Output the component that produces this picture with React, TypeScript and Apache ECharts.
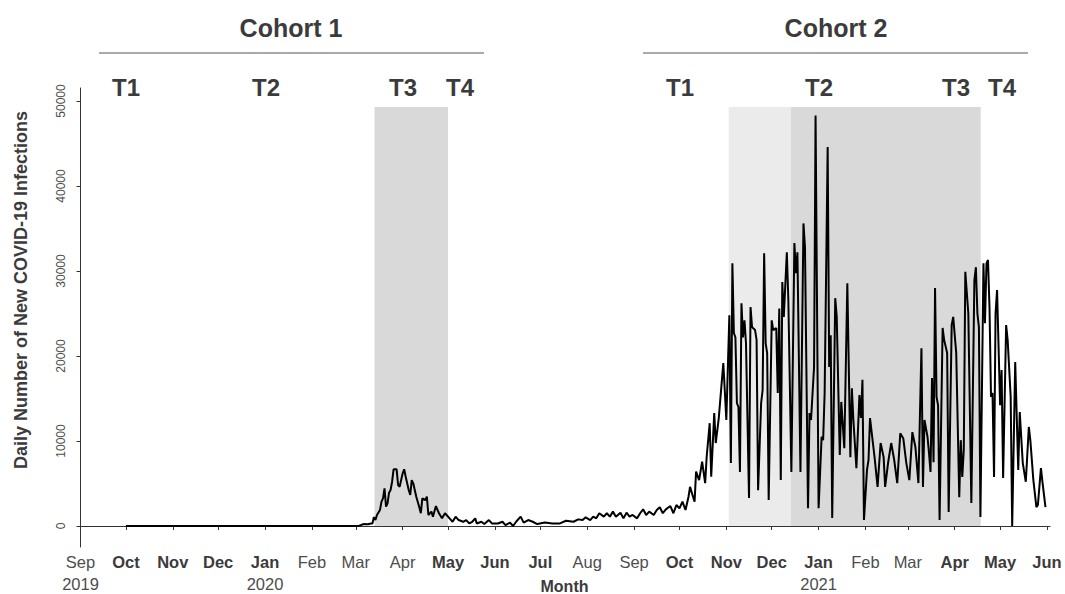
import React, { useEffect, useRef } from "react";
import * as echarts from "echarts";

// Day offsets counted from 2019-09-01
const ORIGIN_UTC = Date.UTC(2019, 8, 1);
const DAY_MS = 86400000;

const days: number[] = [
  30, 184, 187, 190, 192, 193, 194, 195, 196, 198, 199, 200, 201, 202, 203, 204, 205, 206, 207, 209,
  210, 211, 213, 214, 215, 217, 218, 219, 220, 222, 224, 225, 226, 228, 229, 230, 232, 233, 235, 237,
  239, 241, 244, 246, 248, 250, 253, 255, 257, 259, 261, 262, 265, 267, 270, 272, 276, 279, 281, 284,
  286, 288, 291, 293, 296, 299, 302, 307, 312, 317, 321, 326, 329, 332, 334, 337, 339, 341, 343, 346,
  348, 350, 352, 354, 357, 359, 361, 363, 365, 368, 370, 372, 374, 376, 379, 381, 383, 385, 387, 390,
  392, 394, 396, 398, 400, 402, 403, 406, 407, 409, 411, 413, 414, 416, 417, 419, 420, 422, 425, 427,
  429, 430, 431, 432, 433, 434, 435, 436, 437, 438, 439, 440, 442, 443, 444, 446, 447, 448, 450, 451,
  452, 453, 454, 455, 457, 458, 460, 461, 462, 463, 464, 465, 467, 468, 470, 472, 473, 474, 476, 478,
  479, 481, 482, 483, 485, 486, 488, 490, 491, 492, 494, 495, 496, 497, 499, 500, 502, 503, 505, 507,
  509, 510, 511, 513, 515, 516, 517, 518, 520, 521, 522, 525, 527, 529, 531, 532, 534, 536, 538, 540,
  542, 544, 546, 548, 550, 552, 554, 556, 557, 558, 560, 561, 562, 563, 564, 565, 566, 567, 568, 570,
  571, 573, 574, 576, 577, 579, 581, 582, 583, 584, 585, 587, 589, 591, 592, 593, 594, 595, 597, 598,
  599, 600, 601, 602, 603, 604, 605, 606, 607, 608, 609, 610, 612, 613, 615, 616, 618, 620, 621, 623,
  625, 627, 628, 630, 632, 633, 635, 636, 638,
];

const cases: number[] = [
  0, 0, 230, 200, 300, 300, 1050, 700, 1300, 1880, 2860, 3250, 4430, 2270, 2670, 3920, 4230, 5210, 6670, 6670,
  4820, 4620, 6200, 6670, 5800, 4230, 3650, 5400, 5020, 3450, 2200, 1500, 3250, 3060, 3450, 1300, 1690, 1100, 2350, 1500,
  900, 1500, 900, 500, 1100, 700, 500, 700, 300, 500, 900, 300, 500, 230, 700, 300, 300, 500, 100, 400,
  0, 500, 1100, 400, 700, 500, 230, 400, 300, 300, 620, 500, 780, 700, 1020, 700, 1100, 900, 1500, 1100,
  1500, 1100, 1690, 1100, 1570, 900, 1570, 1100, 1300, 900, 1500, 1960, 1300, 1690, 1300, 1880, 2200, 1500, 1960, 2350,
  1500, 2470, 2080, 2860, 1880, 3450, 4600, 2850, 6400, 5400, 7560, 5050, 8150, 12100, 5800, 13300, 9760, 12700, 19170, 12470,
  24800, 7400, 30900, 22700, 22200, 14450, 14000, 6350, 26200, 22200, 24200, 21500, 3300, 25750, 23400, 23050, 21900, 4200, 14450, 16000,
  32100, 21500, 20350, 3050, 24200, 23050, 23300, 15650, 25600, 5400, 28700, 24600, 32200, 26600, 6350, 33300, 29750, 32200, 6350, 35600,
  32800, 2100, 13300, 12470, 18700, 48300, 2100, 10500, 10100, 15650, 44600, 18700, 22450, 940, 26800, 24600, 8350, 14600, 9150, 28550,
  8100, 16200, 12470, 6800, 15400, 12700, 17200, 700, 6600, 7760, 12700, 8100, 4600, 9760, 8100, 4600, 7500, 9760, 7760, 5050,
  10900, 10300, 7400, 5400, 11050, 9300, 5050, 20900, 4600, 12470, 10500, 8600, 6350, 17400, 7500, 28000, 15200, 14200, 700, 23300,
  21900, 20350, 1650, 23650, 24600, 20350, 3400, 10100, 5760, 8950, 29900, 25000, 2700, 28900, 30450, 25000, 23400, 1060, 30900, 23850,
  30900, 31300, 25750, 15200, 15650, 5760, 25000, 27750, 21050, 14200, 18350, 5650, 23650, 21900, 15200, 0, 19300, 6600, 13400, 7400,
  5200, 11650, 10100, 5400, 2230, 2470, 6800, 5200, 2230,
];

const monthTickLabels: string[] = [
  "Sep", "Oct", "Nov", "Dec", "Jan", "Feb", "Mar", "Apr", "May", "Jun", "Jul",
  "Aug", "Sep", "Oct", "Nov", "Dec", "Jan", "Feb", "Mar", "Apr", "May", "Jun",
];
const boldMonth: number[] = [0, 1, 1, 1, 1, 0, 0, 0, 1, 1, 1, 0, 0, 1, 1, 1, 1, 0, 0, 1, 1, 1];
const yearUnder: Record<number, string> = { 0: "2019", 4: "2020", 16: "2021" };

const yTicks: number[] = [0, 10000, 20000, 30000, 40000, 50000];

// Shaded periods (day offsets) and shade top value
const shadeTop = 49300;
const cohort1Shade = [194.4, 243];
const cohort2LightShade = [428.6, 469.6];
const cohort2DarkShade = [469.6, 595.2];

const monthTickDays: number[] = monthTickLabels.map(
  (_, i) => (Date.UTC(2019, 8 + i, 1) - ORIGIN_UTC) / DAY_MS
);

const FONT = "'Liberation Sans', Arial, Helvetica, sans-serif";

export default function App() {
  const ref = useRef<HTMLDivElement>(null);

  useEffect(() => {
    document.body.style.margin = "0";
    if (!ref.current) return;
    const chart = echarts.init(ref.current, undefined, { renderer: "svg" });

    const seriesData = days.map((d, i) => [d, cases[i]]);

    const tLabel = (text: string, x: number) => ({
      type: "text",
      x,
      y: 87,
      style: {
        text,
        fontSize: 24,
        fontWeight: "bold",
        fontFamily: FONT,
        fill: "#3b3b3b",
        align: "center",
        verticalAlign: "middle",
      },
      z: 100,
    });

    const cohortLabel = (text: string, x: number) => ({
      type: "text",
      x,
      y: 28,
      style: {
        text,
        fontSize: 25,
        fontWeight: "bold",
        fontFamily: FONT,
        fill: "#3b3b3b",
        align: "center",
        verticalAlign: "middle",
      },
    });

    chart.setOption({
      animation: false,
      backgroundColor: "#ffffff",
      grid: { left: 79, right: 15, top: 88, bottom: 47, containLabel: false, outerBoundsMode: "none" },
      xAxis: {
        type: "value",
        min: -1,
        max: 641,
        name: "Month",
        nameLocation: "middle",
        nameGap: 31,
        nameMoveOverlap: false,
        nameTextStyle: { fontFamily: FONT, fontSize: 16, fontWeight: "bold", color: "#3b3b3b" },
        axisLine: { show: true, lineStyle: { color: "#333333", width: 1 } },
        axisTick: { show: true, length: 4, customValues: monthTickDays, lineStyle: { color: "#333333" } },
        splitLine: { show: false },
        axisLabel: {
          customValues: monthTickDays,
          margin: 4,
          formatter: (v: number) => {
            const i = monthTickDays.findIndex((d) => Math.abs(d - v) < 0.01);
            if (i < 0) return "";
            const m = boldMonth[i] ? `{b|${monthTickLabels[i]}}` : `{n|${monthTickLabels[i]}}`;
            return yearUnder[i] ? `${m}\n{y|${yearUnder[i]}}` : m;
          },
          rich: {
            b: { fontFamily: FONT, fontSize: 16.5, fontWeight: "bold", color: "#3b3b3b", lineHeight: 22 },
            n: { fontFamily: FONT, fontSize: 16.5, color: "#4d4d4d", lineHeight: 22 },
            y: { fontFamily: FONT, fontSize: 16.5, color: "#4d4d4d", lineHeight: 22 },
          },
        },
      },
      yAxis: {
        type: "value",
        min: -2470,
        max: 51530,
        axisLine: { show: true, lineStyle: { color: "#333333", width: 1 } },
        axisTick: { show: true, length: 4, customValues: yTicks, lineStyle: { color: "#333333" } },
        splitLine: { show: false },
        axisLabel: {
          customValues: yTicks,
          rotate: 90,
          margin: 12,
          fontFamily: FONT,
          fontSize: 12,
          color: "#4d4d4d",
          formatter: (v: number) => String(v),
        },
      },
      series: [
        {
          type: "line",
          data: seriesData,
          showSymbol: false,
          symbol: "none",
          lineStyle: { color: "#000000", width: 2 },
          z: 5,
          markArea: {
            silent: true,
            data: [
              [
                { coord: [cohort1Shade[0], 0], itemStyle: { color: "#d9d9d9" } },
                { coord: [cohort1Shade[1], shadeTop] },
              ],
              [
                { coord: [cohort2LightShade[0], 0], itemStyle: { color: "#ebebeb" } },
                { coord: [cohort2LightShade[1], shadeTop] },
              ],
              [
                { coord: [cohort2DarkShade[0], 0], itemStyle: { color: "#d9d9d9" } },
                { coord: [cohort2DarkShade[1], shadeTop] },
              ],
            ],
          },
        },
      ],
      graphic: [
        {
          type: "text",
          x: 21,
          y: 290,
          rotation: Math.PI / 2,
          style: {
            text: "Daily Number of New COVID-19 Infections",
            fontSize: 18,
            fontWeight: "bold",
            fontFamily: FONT,
            fill: "#3b3b3b",
            align: "center",
            verticalAlign: "middle",
          },
        },
        cohortLabel("Cohort 1", 291),
        { type: "line", shape: { x1: 99, y1: 53, x2: 484, y2: 53 }, style: { stroke: "#555555", lineWidth: 1 } },
        cohortLabel("Cohort 2", 836),
        { type: "line", shape: { x1: 643, y1: 53, x2: 1028, y2: 53 }, style: { stroke: "#555555", lineWidth: 1 } },
        tLabel("T1", 126),
        tLabel("T2", 266),
        tLabel("T3", 403),
        tLabel("T4", 460),
        tLabel("T1", 680),
        tLabel("T2", 819),
        tLabel("T3", 956),
        tLabel("T4", 1002),
      ],
    });

    return () => chart.dispose();
  }, []);

  return (
    <div
      ref={ref}
      style={{ position: "absolute", left: 0, top: 0, width: 1065, height: 594 }}
    />
  );
}
